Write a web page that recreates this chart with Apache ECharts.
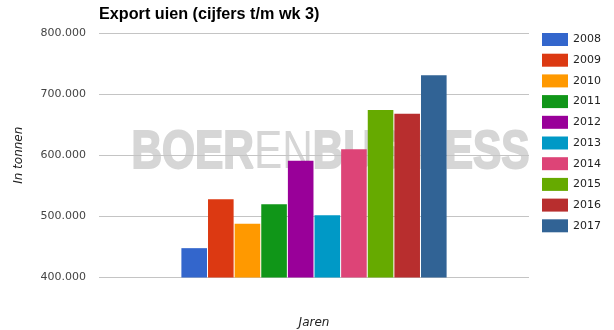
<!DOCTYPE html>
<html>
<head>
<meta charset="utf-8">
<script src="https://cdn.jsdelivr.net/npm/echarts@6/dist/echarts.min.js"></script>
<style>
html,body{margin:0;padding:0;background:#fff;}
#chart{width:614px;height:330px;}
</style>
</head>
<body>
<div id="chart"></div>
<script>
const years = ['2008','2009','2010','2011','2012','2013','2014','2015','2016','2017'];
const exportValues = [448000, 528000, 488000, 520000, 591000, 502000, 610000, 674000, 668000, 731000];
const colors = ['#3366cc','#dc3912','#ff9900','#109618','#990099','#0099c6','#dd4477','#66aa00','#b82e2e','#316395'];
const yTicks = { min: 400000, max: 800000, interval: 100000 };
const watermarkParts = [['BOER', 'bold'], ['EN', 'normal'], ['BUSINESS', 'bold']];

function fmt(v){
  return String(Math.round(v)).replace(/\B(?=(\d{3})+(?!\d))/g, '.');
}

// watermark layout via canvas text measurement
const wmSize = 53, wmScale = 0.8, wmCenterX = 330.5, wmY = 153;
const ctx = document.createElement('canvas').getContext('2d');
const widths = watermarkParts.map(([t, w]) => { ctx.font = w + ' ' + wmSize + 'px "Liberation Sans"'; return ctx.measureText(t).width; });
const totalW = widths.reduce((a, b) => a + b, 0);
let cursor = -totalW / 2;
const wmChildren = watermarkParts.map(([t, w], i) => {
  const heavy = w === 'bold';
  const el = {
    type: 'text', x: cursor, y: 0, silent: true,
    style: {
      text: t, fontWeight: w, fontSize: wmSize, fontFamily: 'Liberation Sans',
      fill: '#d6d6d6', align: 'left', verticalAlign: 'middle',
      stroke: heavy ? '#d6d6d6' : null, lineWidth: heavy ? 2 : 0
    }
  };
  cursor += widths[i];
  return el;
});

const chart = echarts.init(document.getElementById('chart'), null, {renderer:'canvas'});
const series = years.map((y, i) => ({
  name: y,
  type: 'bar',
  data: [exportValues[i]],
  itemStyle: { color: colors[i] },
  barWidth: 25.6,
  barGap: '4%',
  z: 3
}));

chart.setOption({
  animation: false,
  color: colors,
  title: {
    text: 'Export uien (cijfers t/m wk 3)',
    left: 94, top: 2,
    textStyle: { fontFamily: 'Liberation Sans', fontWeight: 'bold', fontSize: 16.2, color: '#000' }
  },
  legend: {
    orient: 'vertical',
    left: 542, top: 33,
    icon: 'rect',
    itemWidth: 26, itemHeight: 13, itemGap: 7.7,
    textStyle: { fontFamily: 'DejaVu Sans', fontSize: 11, color: '#222', lineHeight: 13, padding: [0,0,0,0] },
    padding: 0,
    data: years
  },
  grid: { left: 99, right: 85, top: 33, bottom: 52.5, containLabel: false, outerBoundsMode: 'none' },
  xAxis: {
    type: 'category',
    data: [''],
    name: 'Jaren',
    nameLocation: 'middle',
    nameGap: 39,
    nameTextStyle: { fontFamily: 'DejaVu Sans', fontStyle: 'italic', fontSize: 12, color: '#222' },
    axisLine: { show: false },
    axisTick: { show: false },
    axisLabel: { show: false }
  },
  yAxis: {
    type: 'value',
    min: yTicks.min, max: yTicks.max, interval: yTicks.interval,
    name: 'In tonnen',
    nameLocation: 'middle',
    nameGap: 74,
    nameRotate: 90,
    nameTextStyle: { fontFamily: 'DejaVu Sans', fontStyle: 'italic', fontSize: 12, color: '#222' },
    axisLine: { show: false },
    axisTick: { show: false },
    axisLabel: { formatter: fmt, fontFamily: 'DejaVu Sans', fontSize: 11, color: '#444', margin: 13 },
    splitLine: { lineStyle: { color: '#c4c4c4', width: 1 } }
  },
  graphic: [{
    type: 'group',
    z: -10,
    x: wmCenterX, y: wmY,
    scaleX: wmScale,
    silent: true,
    children: wmChildren
  }],
  series: series
});
</script>
</body>
</html>
